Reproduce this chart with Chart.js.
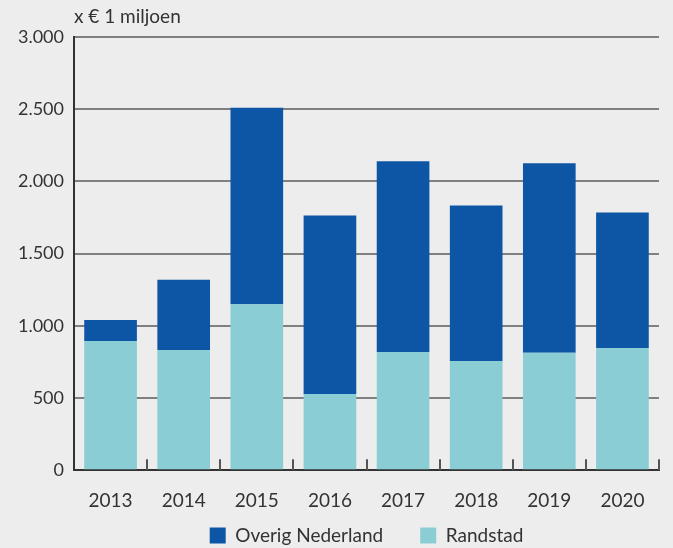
<!DOCTYPE html>
<html>
<head>
<meta charset="utf-8">
<script src="https://cdn.jsdelivr.net/npm/chart.js@4/dist/chart.umd.min.js"></script>
<style>
  html, body { margin: 0; padding: 0; background: #ededed; }
  #wrap { width: 673px; height: 548px; }
</style>
</head>
<body>
<div id="wrap"><canvas id="myChart"></canvas></div>
<script>
var years = ['2013', '2014', '2015', '2016', '2017', '2018', '2019', '2020'];
var randstad = [895, 833, 1150, 528, 819, 757, 813, 847];
var overigNederland = [145, 486, 1360, 1236, 1320, 1076, 1312, 938];
var yTicks = [0, 500, 1000, 1500, 2000, 2500, 3000];

var textColor = '#333333';
var fontFamily = 'Lato, "Open Sans", sans-serif';

// unit label above the y axis + small upward ticks between the years
var extras = {
  id: 'extras',
  afterDraw: function (chart) {
    var ctx = chart.ctx;
    var area = chart.chartArea;
    var x = chart.scales.x;
    ctx.save();
    ctx.fillStyle = textColor;
    ctx.font = '19px ' + fontFamily;
    ctx.textBaseline = 'middle';
    ctx.textAlign = 'left';
    ctx.fillText('x \u20ac 1 miljoen', area.left, 17);

    ctx.strokeStyle = '#555555';
    ctx.lineWidth = 2;
    for (var i = 0; i < years.length; i++) {
      var px = Math.round((x.getPixelForValue(i) + x.getPixelForValue(i + 1)) / 2);
      if (i == years.length - 1) px = area.right;
      ctx.beginPath();
      ctx.moveTo(px, area.bottom);
      ctx.lineTo(px, area.bottom - 11);
      ctx.stroke();
    }
    ctx.restore();
  }
};

var ctx = document.getElementById('myChart').getContext('2d');
var myChart = new Chart(ctx, {
  type: 'bar',
  data: {
    labels: years,
    datasets: [{
      label: 'Randstad',
      data: randstad,
      backgroundColor: '#8acdd4',
      barPercentage: 0.72,
      categoryPercentage: 1
    }, {
      label: 'Overig Nederland',
      data: overigNederland,
      backgroundColor: '#0c56a5',
      barPercentage: 0.72,
      categoryPercentage: 1
    }]
  },
  options: {
    responsive: true,
    maintainAspectRatio: false,
    animation: false,
    layout: { padding: { top: 37, right: 14, left: 0, bottom: -7 } },
    plugins: {
      legend: {
        position: 'bottom',
        fullSize: false,
        reverse: true,
        labels: {
          color: textColor,
          font: { family: fontFamily, size: 19 },
          boxWidth: 16,
          boxHeight: 16,
          padding: 3,
          generateLabels: function (chart) {
            var items = Chart.defaults.plugins.legend.labels.generateLabels(chart);
            items.forEach(function (it) {
              // wider gap between the two legend entries
              if (it.datasetIndex == 1) it.text = it.text + '\u00a0\u00a0\u00a0\u00a0\u00a0\u00a0\u00a0';
            });
            return items;
          }
        }
      },
      tooltip: { enabled: false }
    },
    scales: {
      x: {
        stacked: true,
        grid: { display: false },
        border: { display: true, color: '#333333', width: 2 },
        ticks: {
          color: textColor,
          font: { family: fontFamily, size: 19 },
          padding: 11,
          autoSkip: false
        }
      },
      y: {
        stacked: true,
        min: 0,
        max: 3000,
        afterBuildTicks: function (axis) {
          axis.ticks = yTicks.map(function (v) { return { value: v }; });
        },
        afterFit: function (axis) { axis.width = 74; },
        grid: { color: '#808080', lineWidth: 2, tickLength: 0 },
        border: { display: true, color: '#333333', width: 2 },
        ticks: {
          color: textColor,
          font: { family: fontFamily, size: 18 },
          padding: 10,
          callback: function (v) { return v.toLocaleString('nl-NL'); }
        }
      }
    }
  },
  plugins: [extras]
});
</script>
</body>
</html>
